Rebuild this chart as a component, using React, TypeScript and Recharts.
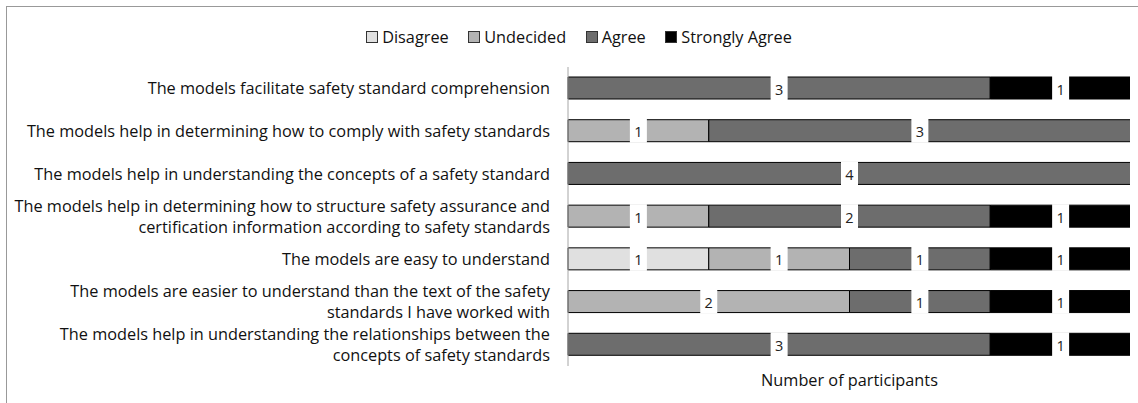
import * as React from "react";
import { BarChart, Bar, XAxis, YAxis, Legend, LabelList } from "recharts";

const categories = [
  "The models facilitate safety standard comprehension",
  "The models help in determining how to comply with safety standards",
  "The models help in understanding the concepts of a safety standard",
  "The models help in determining how to structure safety assurance and\ncertification information according to safety standards",
  "The models are easy to understand",
  "The models are easier to understand than the text of the safety\nstandards I have worked with",
  "The models help in understanding the relationships between the\nconcepts of safety standards",
];

const disagree = [0, 0, 0, 0, 1, 0, 0];
const undecided = [0, 1, 0, 1, 1, 2, 0];
const agree = [3, 3, 4, 2, 1, 1, 3];
const stronglyAgree = [1, 0, 0, 1, 1, 1, 1];

const xTicks = [0, 1, 2, 3, 4];

const series = [
  { key: "disagree", name: "Disagree", color: "#e0e0e0" },
  { key: "undecided", name: "Undecided", color: "#b3b3b3" },
  { key: "agree", name: "Agree", color: "#6d6d6d" },
  { key: "stronglyAgree", name: "Strongly Agree", color: "#000000" },
];

const data = categories.map((name, i) => ({
  name,
  disagree: disagree[i],
  undecided: undecided[i],
  agree: agree[i],
  stronglyAgree: stronglyAgree[i],
}));

const FONT = "'Open Sans', Lato, sans-serif";
const FONT_SIZE = 16.3;

function CategoryTick({ x, y, payload }: any) {
  const lines = String(payload.value).split("\n");
  const lh = 21;
  const startY = y - ((lines.length - 1) * lh) / 2;
  return (
    <text
      textAnchor="end"
      fontFamily={FONT}
      fontSize={FONT_SIZE}
      fill="#111"
      dominantBaseline="central"
    >
      {lines.map((line, i) => (
        <tspan key={i} x={x} y={startY + i * lh}>
          {line}
        </tspan>
      ))}
    </text>
  );
}

function SegmentLabel({ x, y, width, height, value }: any) {
  if (!value) return null;
  const cx = x + width / 2;
  return (
    <g>
      <rect x={cx - 8.5} y={y - 1} width={17} height={height + 2} fill="#fff" />
      <text
        x={cx}
        y={y + height / 2 + 1}
        textAnchor="middle"
        dominantBaseline="central"
        fontFamily={FONT}
        fontSize={14.5}
        fill="#222"
      >
        {value}
      </text>
    </g>
  );
}

function LegendContent() {
  return (
    <div
      style={{
        display: "flex",
        justifyContent: "center",
        gap: 19.5,
        height: 20,
        lineHeight: "20px",
        fontFamily: FONT,
        fontSize: FONT_SIZE,
        color: "#111",
      }}
    >
      {series.map((s) => (
        <div key={s.key} style={{ display: "flex", alignItems: "center" }}>
          <span
            style={{
              display: "inline-block",
              width: 10,
              height: 10,
              background: s.color,
              border: "1px solid #333",
              marginRight: 4,
            }}
          />
          <span>{s.name}</span>
        </div>
      ))}
    </div>
  );
}

export default function App() {
  return (
    <div style={{ width: 1138, height: 403, margin: -8, background: "#fff" }}>
      {/* chart frame: only its top and left edges fall inside the picture */}
      <div
        style={{
          position: "fixed",
          left: 6,
          top: 6,
          width: 1132,
          height: 397,
          borderTop: "1px solid #999",
          borderLeft: "1px solid #999",
          boxSizing: "border-box",
          pointerEvents: "none",
          zIndex: 10,
        }}
      />
      <BarChart
        width={1138}
        height={403}
        data={data}
        layout="vertical"
        margin={{ top: 47, right: 7, bottom: 7, left: 0 }}
      >
        <Legend
          verticalAlign="top"
          align="center"
          content={<LegendContent />}
          wrapperStyle={{ top: 27, left: 10, width: 1138, height: 20 }}
        />
        <XAxis
          type="number"
          domain={[0, 4]}
          ticks={xTicks}
          tick={false}
          axisLine={false}
          tickLine={false}
          height={30}
          label={{
            value: "Number of participants",
            position: "insideTop",
            offset: 8,
            fontFamily: FONT,
            fontSize: FONT_SIZE,
            fill: "#111",
          }}
        />
        <YAxis
          type="category"
          dataKey="name"
          width={568}
          tick={<CategoryTick />}
          tickLine={false}
          tickSize={0}
          tickMargin={18}
          axisLine={{ stroke: "#a6a6a6" }}
          interval={0}
        />
        {series.map((s) => (
          <Bar
            key={s.key}
            dataKey={s.key}
            name={s.name}
            stackId="a"
            fill={s.color}
            stroke="#000"
            strokeWidth={1}
            barSize={22}
            isAnimationActive={false}
          >
            <LabelList dataKey={s.key} content={<SegmentLabel />} />
          </Bar>
        ))}
      </BarChart>
    </div>
  );
}
